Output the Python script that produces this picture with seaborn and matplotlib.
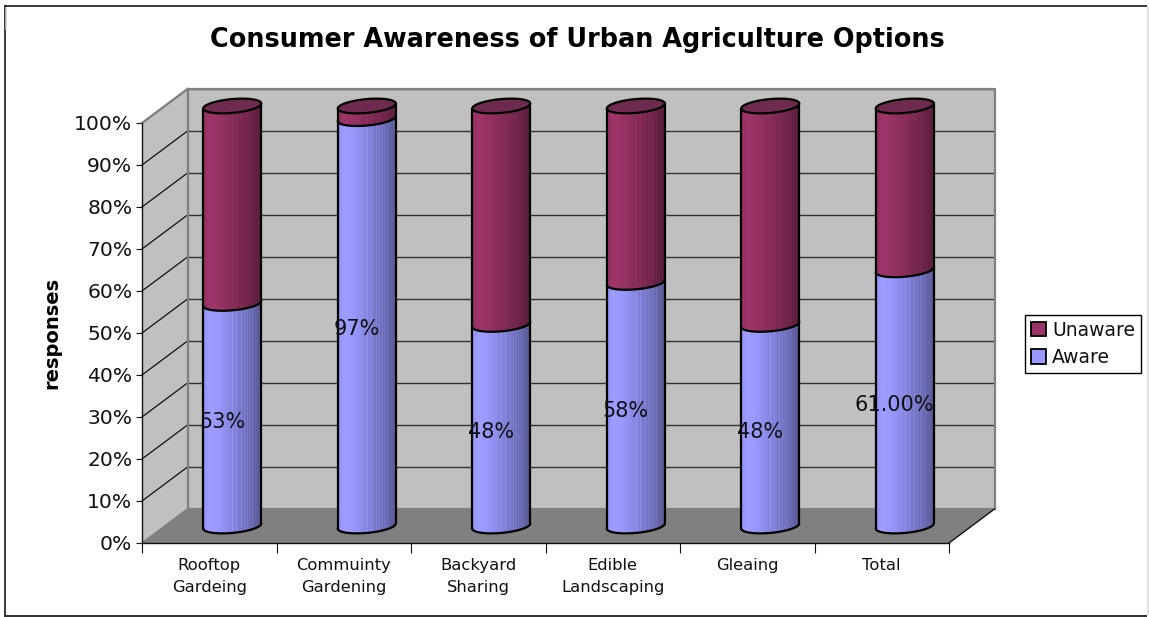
import numpy as np
import matplotlib
matplotlib.use("Agg")
import matplotlib.pyplot as plt
from matplotlib.lines import Line2D
from matplotlib.patches import Patch, Polygon
from matplotlib.colors import to_rgb
import seaborn as sns

categories = ["Rooftop\nGardeing", "Commuinty\nGardening", "Backyard\nSharing",
              "Edible\nLandscaping", "Gleaing", "Total"]
aware = [53, 97, 48, 58, 48, 61]
unaware = [47, 3, 52, 42, 52, 39]
value_labels = ["53%", "97%", "48%", "58%", "48%", "61.00%"]
percent_ticks = list(range(0, 101, 10))

AWARE_COLOR = "#9999FF"
UNAWARE_COLOR = "#993366"
CAP_COLOR = "#6F2A50"
WALL = "#C0C0C0"
FLOOR = "#808080"
TEXT = "#111111"

W, H = 1149, 617
sns.set_theme(style="white")
plt.rcParams["font.family"] = ["DejaVu Sans"]
fig = plt.figure(figsize=(W / 100, H / 100), dpi=100, facecolor="white")


def axes_px(left, top, right, bottom, **kw):
    return fig.add_axes([left / W, 1 - bottom / H, (right - left) / W, (bottom - top) / H], **kw)


def frame_line(x0, y0, x1, y1, color, px):
    fig.add_artist(Line2D([x0 / W, x1 / W], [1 - y0 / H, 1 - y1 / H], color=color,
                          lw=px * 0.72, transform=fig.transFigure, solid_capstyle="butt"))


# chart-area border
frame_line(5, 5.5, 1147, 5.5, "#000000", 1.5)
frame_line(4.5, 5, 4.5, 616, "#000000", 1.5)
frame_line(6, 7, 6, 30, "#C8C8C8", 1.5)
frame_line(4, 615.5, 1147, 615.5, "#333333", 2)
frame_line(1147.5, 6, 1147.5, 615, "#D8D8D8", 1.5)

# front plane of the box: carries both axes
FRONT = (142, 123, 949, 543)
DEPTH_X, DEPTH_Y = 45.5, 34
ax = axes_px(*FRONT, zorder=1)
ax.patch.set_visible(False)
ax.set_xlim(-0.5, 5.5)
ax.set_ylim(0, 100)
dx = DEPTH_X / (FRONT[2] - FRONT[0]) * 6
dy = DEPTH_Y / (FRONT[3] - FRONT[1]) * 100

ax.add_patch(Polygon([(-0.5 + dx, dy), (5.5 + dx, dy), (5.5 + dx, 100 + dy), (-0.5 + dx, 100 + dy)],
                     fc=WALL, ec="none", clip_on=False, zorder=1))
ax.add_patch(Polygon([(-0.5, 0), (-0.5 + dx, dy), (-0.5 + dx, 100 + dy), (-0.5, 100)],
                     fc=WALL, ec="none", clip_on=False, zorder=1))
ax.add_patch(Polygon([(-0.5, 0), (5.5, 0), (5.5 + dx, dy), (-0.5 + dx, dy)],
                     fc=FLOOR, ec="none", clip_on=False, zorder=1))
for t in percent_ticks[1:]:
    ax.plot([-0.5 + dx, 5.5 + dx], [t + dy, t + dy], color="#333333", lw=1.0, clip_on=False, zorder=2)
    ax.plot([-0.5, -0.5 + dx], [t, t + dy], color="#111111", lw=0.9, clip_on=False, zorder=2)
edge = dict(color="#808080", lw=1.6, clip_on=False, zorder=3, solid_capstyle="projecting")
ax.plot([-0.5 + dx, 5.5 + dx, 5.5 + dx], [100 + dy, 100 + dy, dy], **edge)
ax.plot([-0.5 + dx, -0.5 + dx], [dy, 100 + dy], **edge)
ax.plot([-0.5, -0.5 + dx], [100, 100 + dy], **edge)
ax.plot([-0.5 + dx, 5.5 + dx], [dy, dy], **edge)
ax.plot([-0.5, -0.5 + dx], [0, dy], color="#808080", lw=1.2, clip_on=False, zorder=3)
ax.plot([5.5, 5.5 + dx], [0, dy], color="#111111", lw=1.0, clip_on=False, zorder=3)

for side, spine in ax.spines.items():
    spine.set_visible(side in ("left", "bottom"))
    spine.set_color("#111111")
    spine.set_linewidth(1.0)
    spine.set_zorder(4)
ax.set_yticks(percent_ticks, [f"{t}%" for t in percent_ticks])
ax.set_xticks(np.arange(-0.5, 6, 1), [""] * 7)
ax.set_xticks(range(6), categories, minor=True)
ax.tick_params(axis="y", length=4, width=0.8, color="#111111", labelsize=14.6, labelcolor=TEXT, pad=3, left=True)
ax.tick_params(axis="x", which="major", length=7, width=0.8, color="#111111", bottom=True)
ax.tick_params(axis="x", which="minor", length=0, labelsize=11.8, labelcolor=TEXT, pad=11)
for lbl in ax.get_xticklabels(minor=True):
    lbl.set_linespacing(1.55)
fig.text(52 / W, 1 - 333 / H, "responses", rotation=90, ha="center", va="center",
         fontsize=14, fontweight="bold", color="#000000")
fig.text(577 / W, 1 - 40 / H, "Consumer Awareness of Urban Agriculture Options", ha="center", va="center",
         fontsize=18.4, fontweight="bold", color="#000000")

# cylinders stand half-way into the box
cyl = axes_px(FRONT[0] + 23, FRONT[1] - 17, FRONT[2] + 23, FRONT[3] - 17, zorder=2)
cyl.patch.set_visible(False)
BAR_WIDTH = 58 / ((FRONT[2] - FRONT[0]) / 6)
sns.barplot(x=categories, y=aware, color=AWARE_COLOR, saturation=1, width=BAR_WIDTH, ax=cyl, linewidth=0)
n_aware = len(cyl.patches)
sns.barplot(x=categories, y=unaware, bottom=aware, color=UNAWARE_COLOR, saturation=1,
            width=BAR_WIDTH, ax=cyl, linewidth=0)
cyl.set_xlim(-0.5, 5.5)
cyl.set_ylim(0, 100)
cyl.set_axis_off()

CURVE, TILT = 1.65, 0.6


def rim(center, level, start, stop):
    """Points along a tilted elliptical rim, in data units."""
    t = np.linspace(start, stop, 60)
    return center + BAR_WIDTH / 2 * np.cos(t), level + CURVE * np.sin(t) + TILT * np.cos(t)


# horizontal shading of the curved surface, dark towards the right, with thin facet lines
COLUMNS = 58
profile = np.interp(np.linspace(0, 1, COLUMNS), [0, 0.1, 0.3, 0.6, 1], [0.95, 1.04, 0.98, 0.82, 0.60])
for s in (0.5, 0.58, 0.66, 0.71, 0.76, 0.81, 0.86):
    profile[int(s * COLUMNS)] *= 1.1


def shaded(color):
    rgb = np.array(to_rgb(color))
    return np.clip(profile[None, :, None] * rgb[None, None, :], 0, 1)


for i, bar in enumerate(cyl.patches):
    color = AWARE_COLOR if i < n_aware else UNAWARE_COLOR
    x0, w = bar.get_x(), bar.get_width()
    lo, hi = bar.get_y(), bar.get_y() + bar.get_height()
    c = x0 + w / 2
    xh, yh = rim(c, hi, np.pi, 2 * np.pi)
    xl, yl = rim(c, lo, 2 * np.pi, np.pi)
    surface = Polygon(np.c_[np.r_[xh, xl], np.r_[yh, yl]], fc="none", ec="none", transform=cyl.transData)
    cyl.add_patch(surface)
    bar.set_clip_path(surface)
    img = cyl.imshow(shaded(color), extent=(x0, x0 + w, lo - 4, hi + 4), aspect="auto",
                     interpolation="nearest", zorder=3)
    img.set_clip_path(surface)
    img.set_clip_box(fig.bbox)
    outline = dict(color="#000000", lw=1.6, zorder=5, clip_on=False)
    cyl.plot([x0, x0], [yl[-1], yh[0]], **outline)
    cyl.plot([x0 + w, x0 + w], [yl[0], yh[-1]], **outline)
    cyl.plot(xl, yl, **outline)
    if i >= n_aware:
        xt, yt = rim(c, hi, 0, 2 * np.pi)
        cyl.fill(xt, yt, fc=CAP_COLOR, ec="#000000", lw=1.6, zorder=6, clip_on=False)
cyl.set_xlim(-0.5, 5.5)
cyl.set_ylim(0, 100)

for i, (v, text) in enumerate(zip(aware, value_labels)):
    cyl.annotate(text, (i, v / 2), xytext=(-10, -7), textcoords="offset pixels", ha="center", va="center",
                 fontsize=15, color=TEXT, zorder=8, annotation_clip=False)

handles = [Patch(fc=UNAWARE_COLOR, ec="#000000", lw=1.3, label="Unaware"),
           Patch(fc=AWARE_COLOR, ec="#000000", lw=1.3, label="Aware")]
fig.legend(handles=handles, loc="upper left", bbox_to_anchor=(1025 / W, 1 - 315 / H),
           bbox_transform=fig.transFigure, fontsize=13.5, frameon=True, fancybox=False,
           edgecolor="#000000", framealpha=1, handlelength=0.8, handleheight=0.8, handletextpad=0.35,
           borderaxespad=0, borderpad=0.3, labelspacing=0.45, labelcolor=TEXT)

fig.savefig("out.png", dpi=100)
